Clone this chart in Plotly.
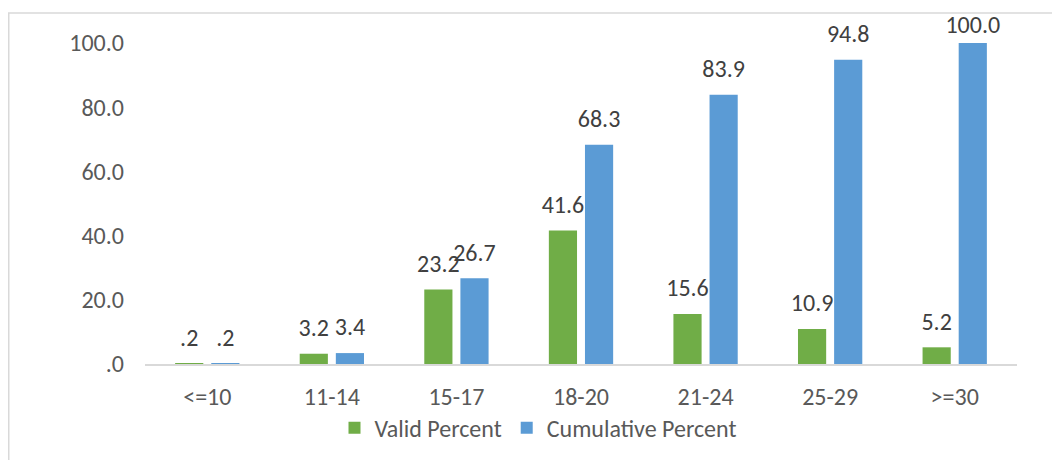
import plotly.graph_objects as go

# age groups and percentages
categories = ["<=10", "11-14", "15-17", "18-20", "21-24", "25-29", ">=30"]
valid_percent = [0.2, 3.2, 23.2, 41.6, 15.6, 10.9, 5.2]
cumulative_percent = [0.2, 3.4, 26.7, 68.3, 83.9, 94.8, 100.0]
y_ticks = [0, 20, 40, 60, 80, 100]


def fmt(v):
    # excel style ".0" format, no leading zero
    s = f"{v:.1f}"
    return s[1:] if s.startswith("0") else s


GREEN = "#70ad47"
BLUE = "#5b9bd5"
FONT = "Calibri, Carlito, Lato, sans-serif"
FS = 24
BARGAP = 0.42

# page body has an 8px margin, so the figure is laid out with that offset in mind
ML, MR, MT, MB = 137, 51, 35, 104
W, H = 1060, 460
PW, PH = W - ML - MR, H - MT - MB

fig = go.Figure()

for name, vals, color, grp in [("Valid Percent", valid_percent, GREEN, "v"),
                                ("Cumulative Percent", cumulative_percent, BLUE, "c")]:
    fig.add_trace(go.Bar(
        x=categories, y=vals, name=name,
        marker=dict(color=color, line=dict(width=0)),
        offsetgroup=grp, alignmentgroup="a",
        hoverinfo="skip",
    ))
    # labels sit above bars; the one at the top edge is pushed down like excel does
    sizes = [5 if v >= 99 else 17 for v in vals]
    fig.add_trace(go.Scatter(
        x=categories, y=vals, mode="markers+text",
        text=[fmt(v) for v in vals], textposition="top center",
        textfont=dict(family=FONT, size=FS, color="#404040"),
        marker=dict(size=sizes, opacity=0),
        offsetgroup=grp, alignmentgroup="a",
        showlegend=False, hoverinfo="skip", cliponaxis=False,
    ))

# light grey frame around the chart area
fig.add_shape(type="rect", xref="paper", yref="paper",
              x0=(0.75 - ML) / PW, x1=1.1, y0=-0.5, y1=(PH + MT - 5) / PH,
              line=dict(color="#d9d9d9", width=1.5), fillcolor="rgba(0,0,0,0)", layer="below")

fig.update_layout(
    width=W, height=H,
    margin=dict(l=ML, r=MR, t=MT, b=MB),
    paper_bgcolor="white", plot_bgcolor="white",
    barmode="group", bargap=BARGAP, bargroupgap=0.22,
    scattermode="group", scattergap=BARGAP,
    font=dict(family=FONT, size=FS, color="#595959"),
    legend=dict(orientation="h", x=(530 - ML) / PW, xanchor="center",
                y=-0.2, yanchor="middle", font=dict(size=FS, color="#595959"),
                itemwidth=30, traceorder="normal"),
    showlegend=True,
)
fig.update_xaxes(showline=True, linecolor="#d9d9d9", linewidth=1.5,
                 showgrid=False, ticks="", ticklabelstandoff=10)
fig.update_yaxes(range=[0, 100], tickvals=y_ticks, ticktext=[fmt(v) for v in y_ticks],
                 showgrid=False, zeroline=False, showline=False, ticks="",
                 ticklabelstandoff=20)

fig.write_html("out.html")
